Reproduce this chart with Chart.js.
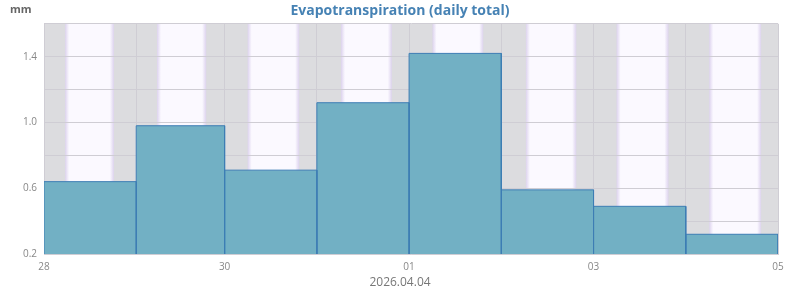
<!DOCTYPE html>
<html><head><meta charset="utf-8">
<script src="https://cdn.jsdelivr.net/npm/chart.js@4/dist/chart.umd.min.js"></script>
<style>html,body{margin:0;padding:0;background:#fff}</style>
</head><body><canvas id="c" width="800" height="290"></canvas>
<script>
// Hours since 2026-03-28 00:00 local time (DST change on 29 March shortens that day)
const dayBoundaries = [0, 24, 47, 71, 95, 119, 143, 167, 191];
const xTickLabels = ['28', '', '30', '', '01', '', '03', '', '05'];
const etValues = [0.64, 0.98, 0.71, 1.12, 1.42, 0.59, 0.49, 0.32];
const yTicks = [0.2, 0.4, 0.6, 0.8, 1.0, 1.2, 1.4, 1.6];
const yTickLabels = ['0.2', '', '0.6', '', '1.0', '', '1.4', ''];
const sunrise = [5.5, 29.4, 53.0, 77.3, 101.1, 125.4, 149.0, 173.1];
const sunset = [18.2, 42.2, 66.4, 90.5, 114.3, 138.5, 162.5, 186.6];
const yMin = 0.2, yMax = 1.6;
const unitLabel = 'mm';
const dateLabel = '2026.04.04';

const bandsPlugin = {
  id: 'bands',
  beforeDraw(chart) {
    const {ctx, chartArea: a, scales: {x}} = chart;
    ctx.save();
    ctx.fillStyle = '#dcdcdf';
    ctx.fillRect(a.left, a.top, a.right - a.left, a.bottom - a.top);
    sunrise.forEach((s, i) => {
      const x0 = x.getPixelForValue(s), x1 = x.getPixelForValue(sunset[i]);
      const g = ctx.createLinearGradient(x0, 0, x1, 0);
      const f = 4 / (x1 - x0);
      g.addColorStop(0, '#ddd3ee');
      g.addColorStop(f, '#fbf9ff');
      g.addColorStop(1 - f, '#fbf9ff');
      g.addColorStop(1, '#ddd3ee');
      ctx.fillStyle = g;
      ctx.fillRect(x0, a.top, x1 - x0, a.bottom - a.top);
    });
    ctx.font = 'bold 11px "Open Sans"';
    ctx.fillStyle = '#666';
    ctx.textBaseline = 'middle';
    ctx.textAlign = 'left';
    ctx.fillText(unitLabel, 10, 10);
    ctx.font = '12px "Open Sans"';
    ctx.fillStyle = '#777';
    ctx.textAlign = 'center';
    ctx.fillText(dateLabel, chart.width / 2, 283);
    ctx.restore();
  }
};

const datasets = etValues.map((v, i) => ({
  data: [
    {x: dayBoundaries[i], y: yMin},
    {x: dayBoundaries[i], y: v},
    {x: dayBoundaries[i + 1], y: v},
    {x: dayBoundaries[i + 1], y: yMin}
  ],
  showLine: true,
  fill: 'start',
  backgroundColor: '#72b0c4',
  borderColor: '#3d7db4',
  borderWidth: 1,
  pointRadius: 0,
  tension: 0
}));

new Chart(document.getElementById('c'), {
  type: 'scatter',
  data: {datasets},
  plugins: [bandsPlugin],
  options: {
    responsive: false,
    animation: false,
    devicePixelRatio: 1,
    layout: {padding: 0},
    plugins: {
      legend: {display: false},
      tooltip: {enabled: false},
      title: {
        display: true,
        text: 'Evapotranspiration (daily total)',
        color: '#4682b4',
        font: {family: 'Open Sans', size: 14, weight: 'bold'},
        padding: {top: 3, bottom: 4}
      }
    },
    scales: {
      x: {
        type: 'linear',
        min: dayBoundaries[0],
        max: dayBoundaries[dayBoundaries.length - 1],
        afterBuildTicks(s) { s.ticks = dayBoundaries.map(v => ({value: v})); },
        afterFit(s) { s.height = 36; },
        ticks: {
          autoSkip: false, maxRotation: 0, padding: 7, color: '#888',
          font: {family: 'Open Sans', size: 10},
          callback: (v, i) => xTickLabels[i]
        },
        grid: {color: '#cfcdd4', drawTicks: false},
        border: {color: '#cfcdd4'}
      },
      y: {
        min: yMin, max: yMax,
        afterBuildTicks(s) { s.ticks = yTicks.map(v => ({value: v})); },
        afterFit(s) { s.width = 44; },
        ticks: {
          autoSkip: false, padding: 7, color: '#888',
          font: {family: 'Open Sans', size: 10},
          callback: (v, i) => yTickLabels[i]
        },
        grid: {color: '#cfcdd4', drawTicks: false},
        border: {color: '#cfcdd4'}
      },
      yRight: {
        position: 'right',
        min: yMin, max: yMax,
        afterFit(s) { s.width = 22; },
        ticks: {display: false},
        grid: {display: false, drawTicks: false},
        border: {display: false}
      }
    }
  }
});
</script>
</body></html>
